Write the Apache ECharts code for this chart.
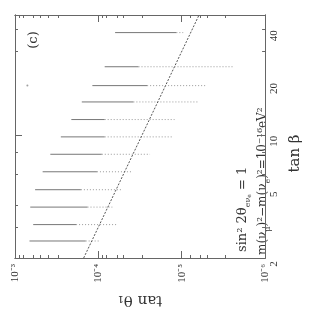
<!DOCTYPE html>
<html><head><meta charset="utf-8">
<script src="https://cdn.jsdelivr.net/npm/echarts@6/dist/echarts.min.js"></script>
<style>html,body{margin:0;padding:0;background:#fff}#c{width:311px;height:312px}</style>
</head><body><div id="c"></div>
<script>
// tan(beta) of each horizontal band
const tanBeta = [2.5, 3.1, 3.9, 4.9, 6.2, 7.8, 9.8, 12.3, 15.5, 19.2, 24.6, 38.5];
// tan(theta1) where each band starts (dense part), where the dense part ends, and where the sparse part ends
const rowStart    = [6.7e-4, 6.05e-4, 6.56e-4, 5.74e-4, 4.66e-4, 3.77e-4, 2.82e-4, 2.11e-4, 1.58e-4, 1.18e-4, 8.4e-5, 6.3e-5];
const rowSolidEnd = [1.42e-4, 1.85e-4, 1.35e-4, 1.62e-4, 1.04e-4, 9.1e-5, 8.4e-5, 8.4e-5, 3.8e-5, 2.6e-5, 3.3e-5, 1.16e-5];
const rowEnd      = [9.6e-5, 6.1e-5, 6.8e-5, 5.2e-5, 4.0e-5, 2.4e-5, 1.32e-5, 1.22e-5, 6.3e-6, 5.0e-6, 2.4e-6, 9.6e-6];
// diagonal boundary line
const diagTanBeta  = [2, 48.5];
const diagTanTheta = [1.5e-4, 6.2e-6];
// isolated point
const strayTanTheta = [7.1e-4];
const strayTanBeta  = [19.2];
// axis ticks / labels
const xLabelValues = [1e-3, 1e-4, 1e-5, 1e-6];
const xMajorTicks  = [1e-4, 1e-5];
const xMinorTicks  = [9e-4, 8e-4, 6e-4, 5e-4, 4e-4, 3e-4, 9e-5, 8e-5, 6e-5, 5e-5, 3e-5, 8e-6, 6e-6, 5e-6, 3e-6];
const yLabelValues = [2, 5, 10, 20, 40];
const yMajorTicks  = [10];
const yMinorTicks  = [3, 4, 6, 8, 30, 40];

const FONT = 'Liberation Serif';
const FONT2 = 'DejaVu Serif';
const AX = '#666';
const supMap = {'-':'⁻','0':'⁰','1':'¹','2':'²','3':'³','4':'⁴','5':'⁵','6':'⁶','7':'⁷','8':'⁸','9':'⁹'};
function sup(n){ return String(n).split('').map(c=>supMap[c]).join(''); }

function xAx(pos, ticks, len, withLabel){
  const a = {
    type:'log', logBase:10, min:1e-6, max:1e-3, inverse:true, position:pos,
    axisLine:{show:true, onZero:false, lineStyle:{color:AX, width:1}},
    axisTick:{show:true, inside:true, length:len, customValues:ticks, lineStyle:{color:AX, width:1}},
    axisLabel:{show:false}, splitLine:{show:false}, minorTick:{show:false}
  };
  if (withLabel){
    a.axisLabel = {show:true, customValues:xLabelValues, rotate:90, margin:6,
      fontFamily:FONT, fontSize:11, color:'#333',
      formatter:v=>'10'+sup(Math.round(Math.log10(v)))};
    a.name = 'tan θ₁'; a.nameLocation='middle'; a.nameGap=34; a.nameRotate=180;
    a.nameTextStyle = {fontFamily:FONT2, fontSize:15, color:'#333'};
  }
  return a;
}
function yAx(pos, ticks, len, withLabel){
  const a = {
    type:'log', logBase:10, min:2, max:48.5, position:pos,
    axisLine:{show:true, onZero:false, lineStyle:{color:AX, width:1}},
    axisTick:{show:true, inside:true, length:len, customValues:ticks, lineStyle:{color:AX, width:1}},
    axisLabel:{show:false}, splitLine:{show:false}, minorTick:{show:false}
  };
  if (withLabel){
    a.axisLabel = {show:true, customValues:yLabelValues, rotate:90, margin:4,
      fontFamily:FONT, fontSize:11, color:'#333', padding:[0,12,0,0],
      formatter:v=>String(Math.round(v))};
    a.name = 'tan β'; a.nameLocation='middle'; a.nameGap=18; a.nameRotate=90;
    a.nameTextStyle = {fontFamily:FONT2, fontSize:15, color:'#333', padding:[0,34,0,0]};
  }
  return a;
}

const series = [];
tanBeta.forEach((b,i)=>{
  series.push({type:'line', data:[[rowStart[i], b],[rowSolidEnd[i], b]], symbol:'none', silent:true,
    lineStyle:{color:'#777', width:1}, z:2});
  series.push({type:'line', data:[[rowSolidEnd[i], b],[rowEnd[i], b]], symbol:'none', silent:true,
    lineStyle:{color:'#999', width:1, type:[1,2]}, z:2});
});
series.push({type:'line', data:diagTanTheta.map((t,i)=>[t, diagTanBeta[i]]), symbol:'none', silent:true,
  lineStyle:{color:'#555', width:1, type:[2,1.5]}, z:3});
series.push({type:'scatter', data:strayTanTheta.map((t,i)=>[t, strayTanBeta[i]]), symbolSize:2,
  itemStyle:{color:'#888'}, silent:true});

const chart = echarts.init(document.getElementById('c'), null, {renderer:'canvas'});
chart.setOption({
  animation:false,
  backgroundColor:'#fff',
  grid:{left:15, right:33, top:15, bottom:49, containLabel:false},
  xAxis:[xAx('bottom', xMajorTicks, 7, true), xAx('bottom', xMinorTicks, 3, false),
         xAx('top', xMajorTicks, 7, false), xAx('top', xMinorTicks, 3, false)],
  yAxis:[yAx('right', yMajorTicks, 7, true), yAx('right', yMinorTicks, 3, false),
         yAx('left', yMajorTicks, 7, false), yAx('left', yMinorTicks, 3, false)],
  series:series,
  graphic:[
    {type:'text', x:34, y:40, rotation:Math.PI/2, silent:true,
     style:{text:'(c)', fontFamily:FONT2, fontSize:13, fill:'#333', align:'center', verticalAlign:'middle'}},
    {type:'text', x:243, y:252, rotation:Math.PI/2, silent:true,
     style:{text:'{a|sin² 2θ}{s|eν}{t|e}{a| = 1}', fontFamily:FONT2, fill:'#333', align:'left', verticalAlign:'middle',
       rich:{a:{fontFamily:FONT2, fontSize:13, lineHeight:18, verticalAlign:'middle', fill:'#333'},
             s:{fontFamily:FONT2, fontSize:8, lineHeight:10, verticalAlign:'bottom', fill:'#333'},
             t:{fontFamily:FONT2, fontSize:6, lineHeight:7, verticalAlign:'bottom', fill:'#333'}}}},
    {type:'text', x:263, y:255, rotation:Math.PI/2, silent:true,
     style:{text:'{a|m(ν}{s|μ}{a|)²−m(ν}{s|e}{a|)²=10⁻¹⁶eV²}', fontFamily:FONT2, fill:'#333', align:'left', verticalAlign:'middle',
       rich:{a:{fontFamily:FONT2, fontSize:12, lineHeight:17, verticalAlign:'middle', fill:'#333'},
             s:{fontFamily:FONT2, fontSize:8, lineHeight:10, verticalAlign:'bottom', fill:'#333'}}}}
  ]
});
</script></body></html>
